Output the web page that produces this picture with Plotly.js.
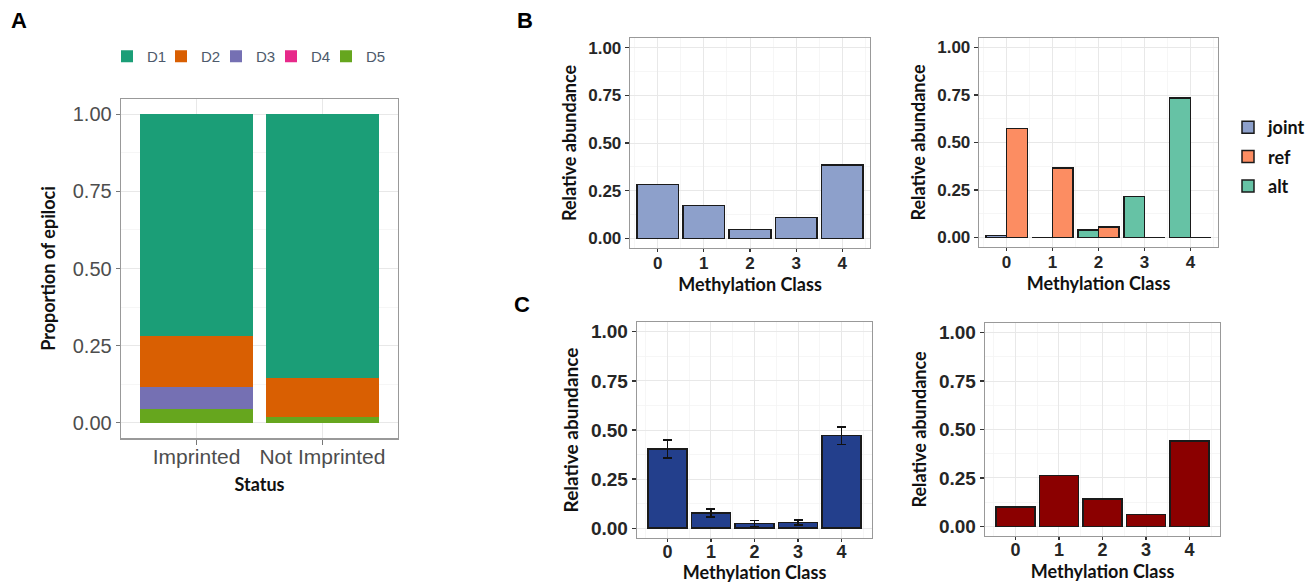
<!DOCTYPE html>
<html><head><meta charset="utf-8">
<script src="https://cdn.plot.ly/plotly-3.0.1.min.js"></script>
<style>body{margin:0;background:#fff}#chart{width:1315px;height:583px}</style>
</head><body><div id="chart"></div>
<script>
// ---- Panel A data ----
const statusCats = ['Imprinted', 'Not Imprinted'];
const d1 = [0.720, 0.855];
const d2 = [0.167, 0.128];
const d3 = [0.071, 0.000];
const d4 = [0.000, 0.000];
const d5 = [0.043, 0.017];
const dNames = ['D1', 'D2', 'D3', 'D4', 'D5'];

// ---- Panel B / C data ----
const methClasses = [0, 1, 2, 3, 4];
const jointB = [0.282, 0.173, 0.048, 0.111, 0.386];
const jointAllelic = [0.010, 0.000, null, null, null];
const refAllelic = [0.575, 0.365, 0.055, 0.000, 0.000];
const altAllelic = [null, null, 0.040, 0.215, 0.735];
const cLeftMean = [0.404, 0.078, 0.024, 0.029, 0.471];
const cLeftErr = [0.046, 0.020, 0.015, 0.013, 0.045];
const cRight = [0.100, 0.262, 0.141, 0.062, 0.441];

const W = 1315, H = 583;
const dx = (a, b) => [a / W, b / W];
const dy = (top, bot) => [1 - bot / H, 1 - top / H];

const dark2 = {D1: '#1b9e77', D2: '#d95f02', D3: '#7570b3', D4: '#e7298a', D5: '#66a61e'};
const stackVals = {D1: d1, D2: d2, D3: d3, D4: d4, D5: d5};
// one small horizontal legend per status class, laid out in a row (D1..D5)
const legendId = {D1: 'legend', D2: 'legend4', D3: 'legend5', D4: 'legend6', D5: 'legend3'};
const legendX = {D1: 107, D2: 161, D3: 216, D4: 271, D5: 326};

const traces = [];
// stacking order bottom->top: D5, D4, D3, D2, D1
['D5', 'D4', 'D3', 'D2', 'D1'].forEach(n => {
  traces.push({type: 'bar', name: n, x: statusCats, y: stackVals[n], xaxis: 'x', yaxis: 'y',
    marker: {color: dark2[n], line: {width: 0}}, legend: legendId[n], hoverinfo: 'skip'});
});

const outline = {color: '#1a1a1a', width: 1.5};
traces.push({type: 'bar', x: methClasses, y: jointB, xaxis: 'x2', yaxis: 'y2', showlegend: false,
  marker: {color: '#8da0cb', line: outline}, width: 0.9});

traces.push({type: 'bar', name: 'joint', x: methClasses, y: jointAllelic, xaxis: 'x3', yaxis: 'y3',
  base: 0, offset: -0.45, width: 0.45, legend: 'legend2', legendrank: 1, legendgroup: 'g1',
  marker: {color: '#8da0cb', line: outline}});
traces.push({type: 'bar', name: 'ref', x: methClasses, y: refAllelic, xaxis: 'x3', yaxis: 'y3',
  base: 0, offset: 0, width: 0.45, legend: 'legend2', legendrank: 2, legendgroup: 'g2',
  marker: {color: '#fc8d62', line: outline}});
traces.push({type: 'bar', name: 'alt', x: methClasses, y: altAllelic, xaxis: 'x3', yaxis: 'y3',
  base: 0, offset: -0.45, width: 0.45, legend: 'legend2', legendrank: 3, legendgroup: 'g3',
  marker: {color: '#66c2a5', line: outline}});

traces.push({type: 'bar', x: methClasses, y: cLeftMean, xaxis: 'x4', yaxis: 'y4', showlegend: false,
  marker: {color: '#233f8c', line: outline}, width: 0.9,
  error_y: {type: 'data', array: cLeftErr, visible: true, color: '#111', thickness: 1.5, width: 4.5}});
traces.push({type: 'bar', x: methClasses, y: cRight, xaxis: 'x5', yaxis: 'y5', showlegend: false,
  marker: {color: '#8b0000', line: outline}, width: 0.9});

function yAx(domain, anchor, tickSize, titleText, titleFont, standoff, regular) {
  return {
    domain, anchor, range: [-0.05, 1.05], tickmode: 'linear', tick0: 0, dtick: 0.25, tickformat: '.2f',
    ticks: 'outside', ticklen: 4, tickwidth: 1.2, tickcolor: regular ? '#777' : '#333',
    tickfont: {family: 'Liberation Sans', size: tickSize, color: regular ? '#4d4d4d' : '#262626', weight: regular ? 'normal' : 'bold'},
    showgrid: true, gridcolor: '#e8e8e8', gridwidth: 1,
    minor: {dtick: 0.125, tick0: 0, showgrid: true, gridcolor: '#f4f4f4', gridwidth: 0.8},
    showline: true, mirror: true, linecolor: '#999', linewidth: 1.3, zeroline: false,
    title: {text: titleText, font: titleFont, standoff}, fixedrange: true
  };
}
function xAx(domain, anchor, range, tickSize, standoff, labelShift) {
  return {
    domain, anchor, range, type: 'linear', tickmode: 'linear', tick0: 0, dtick: 1,
    ticks: 'outside', ticklen: 3, tickwidth: 1.2, tickcolor: '#333', ticklabelstandoff: labelShift,
    tickfont: {family: 'Liberation Sans', size: tickSize, color: '#262626', weight: 'bold'},
    showgrid: true, gridcolor: '#e8e8e8', gridwidth: 1,
    minor: {dtick: 0.5, tick0: 0, showgrid: true, gridcolor: '#f4f4f4', gridwidth: 0.8},
    showline: true, mirror: true, linecolor: '#999', linewidth: 1.3, zeroline: false,
    title: {text: 'Methylation Class', font: {family: 'Lato', size: 18, color: '#111', weight: 'bold'}, standoff},
    fixedrange: true
  };
}

const titleFontB = {family: 'Lato', size: 18, color: '#111', weight: 'bold'};
const titleFontC = {family: 'Lato', size: 19, color: '#111', weight: 'bold'};
const legFontA = {family: 'Liberation Sans', size: 15, color: '#4d5a6b'};

const layout = {
  width: W, height: H, margin: {l: 0, r: 0, t: 0, b: 0},
  paper_bgcolor: '#fff', plot_bgcolor: '#fff',
  barmode: 'stack', bargap: 0.1,
  font: {family: 'Liberation Sans'},
  xaxis: {
    domain: dx(121, 398), anchor: 'y', type: 'category', range: [-0.6, 1.6],
    ticks: 'outside', ticklen: 5, tickwidth: 1.2, tickcolor: '#777', ticklabelstandoff: -6,
    tickfont: {family: 'Liberation Sans', size: 21, color: '#4d4d4d'},
    showgrid: true, gridcolor: '#e8e8e8', showline: true, mirror: true, linecolor: '#999', linewidth: 1.5,
    title: {text: 'Status', font: {family: 'Lato', size: 18, color: '#111', weight: 'bold'}, standoff: 11}, fixedrange: true
  },
  yaxis: yAx(dy(99, 438), 'x', 20, 'Proportion of epiloci', {family: 'Lato', size: 18, color: '#111', weight: 'bold'}, 12, true),
  xaxis2: xAx(dx(630, 870), 'y2', [-0.6, 4.6], 17, 0, -4),
  yaxis2: yAx(dy(38, 248), 'x2', 17, 'Relative abundance', titleFontB, 7, false),
  xaxis3: xAx(dx(979, 1218), 'y3', [-0.6, 4.6], 17, 0, -4),
  yaxis3: yAx(dy(38, 247), 'x3', 17, 'Relative abundance', titleFontB, 7, false),
  xaxis4: xAx(dx(637, 872), 'y4', [-0.7, 4.7], 18, 6, -6),
  yaxis4: yAx(dy(322, 538), 'x4', 19, 'Relative abundance', titleFontC, 7, false),
  xaxis5: xAx(dx(985, 1220), 'y5', [-0.7, 4.7], 18, 6, -6),
  yaxis5: yAx(dy(323, 536), 'x5', 19, 'Relative abundance', titleFontB, 7, false),
  legend2: {
    orientation: 'v', x: 1228 / W, y: 1 - 109 / H, xanchor: 'left', yanchor: 'top',
    traceorder: 'grouped', tracegroupgap: 3, font: {family: 'Lato', size: 18, color: '#111', weight: 'bold'},
    bgcolor: 'rgba(0,0,0,0)'
  },
  annotations: [
    {text: '<b>A</b>', x: 19 / W, y: 1 - 21 / H, xanchor: 'center', yanchor: 'middle', xref: 'paper', yref: 'paper', showarrow: false, font: {family: 'Liberation Sans', size: 22, color: '#000'}},
    {text: '<b>B</b>', x: 525 / W, y: 1 - 21 / H, xanchor: 'center', yanchor: 'middle', xref: 'paper', yref: 'paper', showarrow: false, font: {family: 'Liberation Sans', size: 22, color: '#000'}},
    {text: '<b>C</b>', x: 522 / W, y: 1 - 304 / H, xanchor: 'center', yanchor: 'middle', xref: 'paper', yref: 'paper', showarrow: false, font: {family: 'Liberation Sans', size: 22, color: '#000'}}
  ],
  showlegend: true
};
dNames.forEach(n => {
  layout[legendId[n]] = {
    orientation: 'h', x: legendX[n] / W, y: 1 - 40 / H, xanchor: 'left', yanchor: 'top',
    font: legFontA, bgcolor: 'rgba(0,0,0,0)'
  };
});

Plotly.newPlot('chart', traces, layout, {displayModeBar: false, staticPlot: true});
</script>
</body></html>
